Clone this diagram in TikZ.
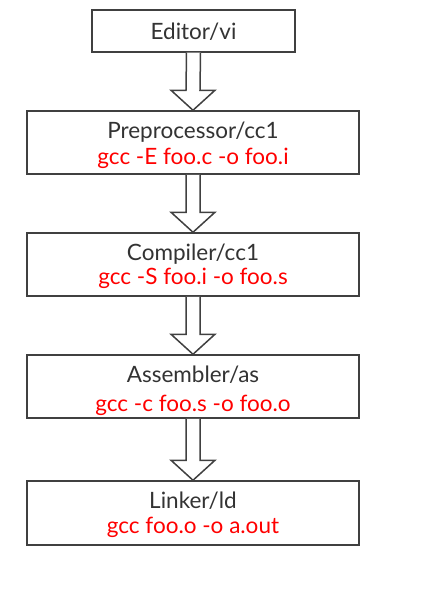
\documentclass[tikz,border=0pt]{standalone}
\usepackage{fontspec}
\setmainfont{Lato}
\usetikzlibrary{calc}
\definecolor{edge}{HTML}{404040}
\definecolor{ink}{HTML}{333333}
\definecolor{cmd}{HTML}{FF0000}
\tikzset{
  stagebox/.style={draw=edge, line width=1.5pt, fill=white, inner sep=0pt},
  title/.style={text=ink, font=\fontsize{22.5}{22.5}\selectfont, inner sep=0pt, anchor=center},
  command/.style={text=cmd, font=\fontsize{22.5}{22.5}\selectfont, inner sep=0pt, anchor=center},
  flowarrow/.style={draw=edge, line width=1.5pt, fill=white, line join=miter}
}
\newcommand{\fatarrow}[2]{%
  \draw[flowarrow] ($(#1.south)+(-7,0)$) -- ($(#2.north)+(-7,-20)$) -- ($(#2.north)+(-22,-20)$)
    -- (#2.north) -- ($(#2.north)+(22,-20)$) -- ($(#2.north)+(7,-20)$) -- ($(#1.south)+(7,0)$);}
\begin{document}
\begin{tikzpicture}[x=1pt,y=-1pt]
\useasboundingbox (0,0) rectangle (439,594);
\node[stagebox, minimum width=203pt, minimum height=42pt] (ed) at (193.5,31) {};
\node[title] (edt) at (193.5,32) {Editor/vi};

\node[stagebox, minimum width=332pt, minimum height=63pt] (pp) at (193,142.5) {};
\node[title] (ppt) at (193,132) {Preprocessor/cc1};
\node[command] (ppc) at (193,158) {gcc -E foo.c -o foo.i};

\node[stagebox, minimum width=332pt, minimum height=63pt] (cc) at (193,264.5) {};
\node[title] (cct) at (193,254) {Compiler/cc1};
\node[command] (ccc) at (193,278) {gcc -S foo.i -o foo.s};

\node[stagebox, minimum width=332pt, minimum height=63pt] (as) at (193,386.5) {};
\node[title] (ast) at (193,375) {Assembler/as};
\node[command] (asc) at (193,405) {gcc -c foo.s -o foo.o};

\node[stagebox, minimum width=332pt, minimum height=64pt] (ld) at (193,513) {};
\node[title] (ldt) at (193,501) {Linker/ld};
\node[command] (ldc) at (193,527) {gcc foo.o -o a.out};

\fatarrow{ed}{pp}
\fatarrow{pp}{cc}
\fatarrow{cc}{as}
\fatarrow{as}{ld}
\end{tikzpicture}
\end{document}
